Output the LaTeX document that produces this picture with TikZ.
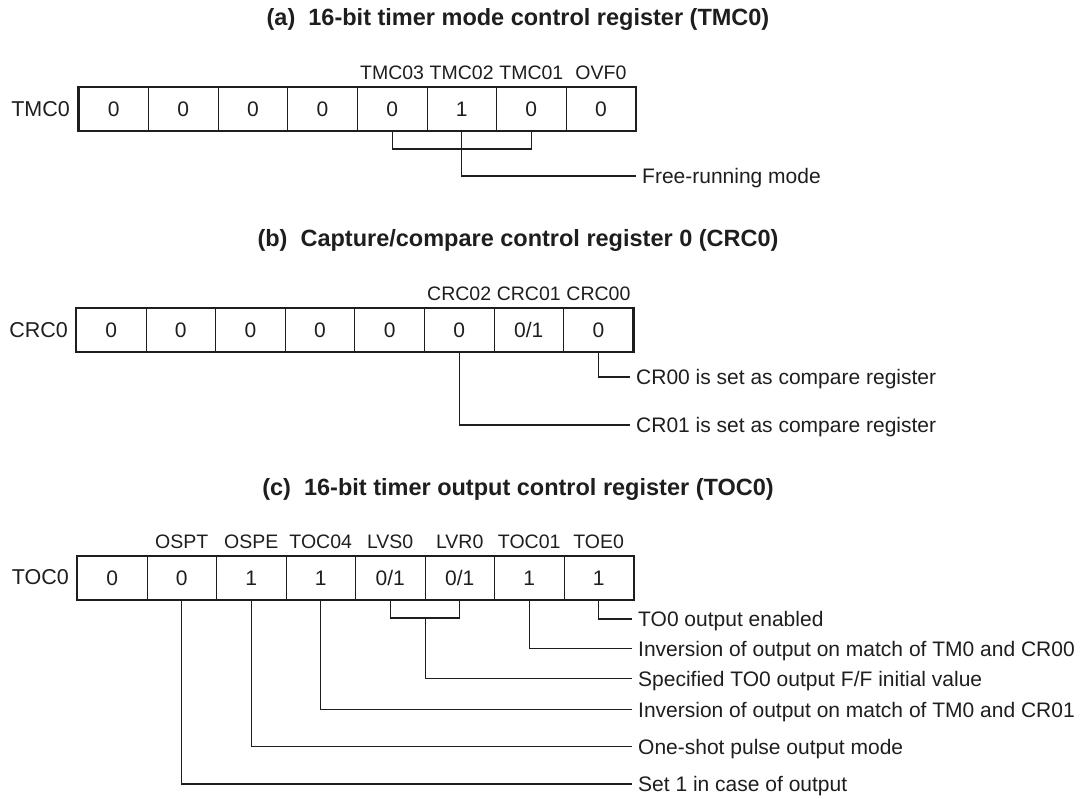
\documentclass[tikz,border=0pt]{standalone}
\usepackage{fontspec}
\setmainfont{Liberation Sans}
\definecolor{ink}{HTML}{1E1E1E}
\begin{document}
\begin{tikzpicture}[x=1pt,y=-1pt,
  cellbox/.style={draw=ink,line width=0.8pt,minimum width=69.6pt,minimum height=43.5pt,
    anchor=north west,inner sep=0pt,font=\fontsize{21}{23}\selectfont,text=ink},
  frame/.style={draw=ink,line width=2.3pt},
  fieldlbl/.style={font=\fontsize{19.5}{21}\selectfont,text=ink,inner sep=0pt},
  regname/.style={font=\fontsize{21.5}{23}\selectfont,text=ink,anchor=east,inner sep=0pt},
  ttl/.style={font=\bfseries\fontsize{23.5}{26}\selectfont,text=ink,inner sep=0pt},
  desc/.style={font=\fontsize{21}{24}\selectfont,text=ink,anchor=west,inner xsep=6pt,
    inner ysep=0pt,text height=15pt,text depth=0pt},
  conn/.style={draw=ink,line width=1.1pt}]
\useasboundingbox (0,0) rectangle (1089,798);

% ---------------- (a) TMC0 ----------------
\node[ttl] (ta) at (518,19) {(a)\ \ 16-bit timer mode control register (TMC0)};
\foreach \v [count=\i] in {0,0,0,0,0,1,0,0}
  \node[cellbox] (a\i) at ({78.5+(\i-1)*69.6},87) {\v};
\draw[frame] (a1.north west) rectangle (a8.south east);
\node[regname] (na) at (70,109) {TMC0};
\foreach \l/\i in {TMC03/5,TMC02/6,TMC01/7,OVF0/8}
  \node[fieldlbl] (fa\i) at (a\i.north |- 0,73) {\l};
\node[desc] (fr) at (636,176) {Free-running mode};
\coordinate (abr) at (0,149);
\draw[conn] (a5.south) |- (a7.south |- abr) -- (a7.south);
\draw[conn] (a6.south) |- (fr.west);

% ---------------- (b) CRC0 ----------------
\node[ttl] (tb) at (518,240) {(b)\ \ Capture/compare control register 0 (CRC0)};
\foreach \v [count=\i] in {0,0,0,0,0,0,0/1,0}
  \node[cellbox] (b\i) at ({76+(\i-1)*69.6},308) {\v};
\draw[frame] (b1.north west) rectangle (b8.south east);
\node[regname] (nb) at (68,330) {CRC0};
\foreach \l/\i in {CRC02/6,CRC01/7,CRC00/8}
  \node[fieldlbl] (fb\i) at (b\i.north |- 0,294) {\l};
\node[desc] (cr0) at (630,377) {CR00 is set as compare register};
\node[desc] (cr1) at (630,425) {CR01 is set as compare register};
\draw[conn] (b8.south) |- (cr0.west);
\draw[conn] (b6.south) |- (cr1.west);

% ---------------- (c) TOC0 ----------------
\node[ttl] (tc) at (518,489) {(c)\ \ 16-bit timer output control register (TOC0)};
\foreach \v [count=\i] in {0,0,1,1,0/1,0/1,1,1}
  \node[cellbox] (c\i) at ({77+(\i-1)*69.5},556) {\v};
\draw[frame] (c1.north west) rectangle (c8.south east);
\node[regname] (nc) at (69,577) {TOC0};
\foreach \l/\i in {OSPT/2,OSPE/3,TOC04/4,LVS0/5,LVR0/6,TOC01/7,TOE0/8}
  \node[fieldlbl] (fc\i) at (c\i.north |- 0,542) {\l};
\node[desc] (d1) at (632,619) {TO0 output enabled};
\node[desc] (d2) at (632,648.5) {Inversion of output on match of TM0 and CR00};
\node[desc] (d3) at (632,678.5) {Specified TO0 output F/F initial value};
\node[desc] (d4) at (632,709.5) {Inversion of output on match of TM0 and CR01};
\node[desc] (d5) at (632,746.5) {One-shot pulse output mode};
\node[desc] (d6) at (632,784) {Set 1 in case of output};
\coordinate (cbr) at (0,618);
\draw[conn] (c8.south) |- (d1.west);
\draw[conn] (c7.south) |- (d2.west);
\draw[conn] (c5.south) |- (c6.south |- cbr) -- (c6.south);
\draw[conn] (c5.south east |- cbr) |- (d3.west);
\draw[conn] (c4.south) |- (d4.west);
\draw[conn] (c3.south) |- (d5.west);
\draw[conn] (c2.south) |- (d6.west);
\end{tikzpicture}
\end{document}
